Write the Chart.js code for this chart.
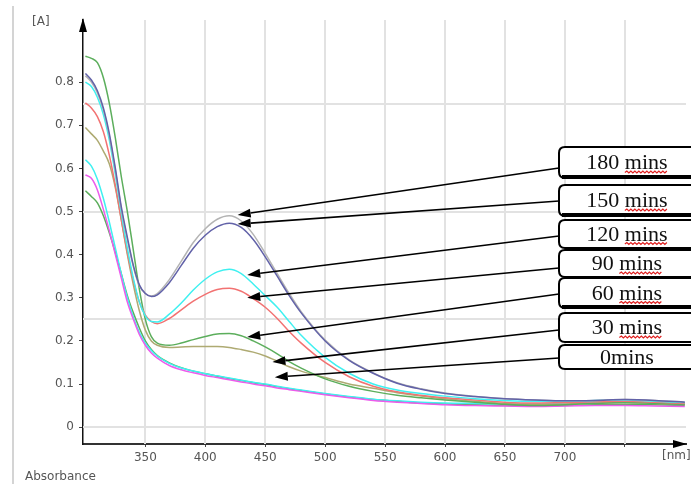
<!DOCTYPE html>
<html>
<head>
<meta charset="utf-8">
<script src="https://cdn.jsdelivr.net/npm/chart.js@4.4.1/dist/chart.umd.min.js"></script>
<style>
  html, body { margin: 0; padding: 0; background: #fff; }
</style>
</head>
<body>
<canvas id="chart" width="691" height="484"></canvas>
<script>
// wavelength grid (nm)
const wavelengths = [300, 305, 310, 315, 320, 325, 330, 335, 340, 345, 350, 355, 360, 370, 380, 390, 400, 410, 420, 430, 440, 450, 460, 470, 480, 500, 520, 540, 560, 580, 600, 625, 650, 675, 700, 725, 750, 775, 800];

// absorbance readings per time
const abs180 = [0.815, 0.8, 0.775, 0.735, 0.675, 0.595, 0.505, 0.435, 0.372, 0.328, 0.31, 0.304, 0.31, 0.342, 0.385, 0.428, 0.46, 0.482, 0.49, 0.478, 0.447, 0.403, 0.356, 0.31, 0.268, 0.202, 0.156, 0.126, 0.103, 0.089, 0.079, 0.071, 0.066, 0.063, 0.061, 0.062, 0.064, 0.062, 0.058];
const abs150 = [0.82, 0.805, 0.78, 0.74, 0.68, 0.6, 0.51, 0.44, 0.375, 0.33, 0.31, 0.303, 0.307, 0.335, 0.375, 0.415, 0.445, 0.465, 0.473, 0.463, 0.435, 0.395, 0.35, 0.305, 0.265, 0.2, 0.155, 0.125, 0.102, 0.088, 0.078, 0.071, 0.066, 0.063, 0.061, 0.062, 0.064, 0.062, 0.058];
const abs120 = [0.80, 0.79, 0.765, 0.725, 0.665, 0.585, 0.495, 0.415, 0.345, 0.29, 0.258, 0.245, 0.244, 0.262, 0.288, 0.318, 0.343, 0.36, 0.366, 0.356, 0.332, 0.305, 0.278, 0.245, 0.213, 0.162, 0.125, 0.1, 0.086, 0.078, 0.072, 0.066, 0.062, 0.06, 0.06, 0.062, 0.063, 0.06, 0.057];
const abs90 = [0.752, 0.74, 0.72, 0.685, 0.63, 0.56, 0.48, 0.405, 0.34, 0.29, 0.26, 0.245, 0.24, 0.252, 0.272, 0.292, 0.308, 0.319, 0.322, 0.315, 0.298, 0.278, 0.252, 0.222, 0.195, 0.15, 0.117, 0.095, 0.082, 0.074, 0.068, 0.063, 0.058, 0.056, 0.057, 0.059, 0.06, 0.058, 0.055];
const abs60 = [0.86, 0.855, 0.845, 0.81, 0.75, 0.67, 0.58, 0.5, 0.41, 0.32, 0.25, 0.21, 0.195, 0.19, 0.195, 0.203, 0.21, 0.216, 0.217, 0.212, 0.2, 0.186, 0.17, 0.152, 0.137, 0.112, 0.095, 0.083, 0.074, 0.068, 0.063, 0.058, 0.053, 0.05, 0.052, 0.055, 0.057, 0.055, 0.053];
const abs30 = [0.695, 0.68, 0.665, 0.64, 0.61, 0.555, 0.48, 0.4, 0.33, 0.27, 0.225, 0.2, 0.19, 0.185, 0.186, 0.187, 0.187, 0.187, 0.185, 0.18, 0.174, 0.165, 0.153, 0.14, 0.13, 0.115, 0.1, 0.09, 0.08, 0.072, 0.066, 0.06, 0.055, 0.053, 0.054, 0.056, 0.057, 0.055, 0.053];
const abs0a = [0.585, 0.577, 0.55, 0.505, 0.455, 0.4, 0.345, 0.29, 0.25, 0.215, 0.19, 0.172, 0.16, 0.143, 0.133, 0.126, 0.12, 0.115, 0.11, 0.105, 0.1, 0.096, 0.091, 0.087, 0.083, 0.075, 0.068, 0.062, 0.058, 0.055, 0.052, 0.05, 0.049, 0.048, 0.049, 0.05, 0.05, 0.049, 0.048];
const abs0b = [0.62, 0.605, 0.575, 0.53, 0.475, 0.415, 0.355, 0.3, 0.255, 0.22, 0.195, 0.178, 0.165, 0.148, 0.137, 0.13, 0.124, 0.119, 0.114, 0.109, 0.104, 0.1, 0.095, 0.09, 0.086, 0.078, 0.071, 0.065, 0.061, 0.058, 0.056, 0.055, 0.054, 0.054, 0.056, 0.058, 0.058, 0.057, 0.055];
const abs0c = [0.548, 0.535, 0.52, 0.49, 0.45, 0.405, 0.355, 0.305, 0.265, 0.23, 0.2, 0.18, 0.166, 0.149, 0.138, 0.13, 0.124, 0.118, 0.113, 0.108, 0.103, 0.099, 0.094, 0.089, 0.085, 0.077, 0.07, 0.064, 0.06, 0.056, 0.054, 0.052, 0.05, 0.049, 0.05, 0.052, 0.053, 0.052, 0.05];

const xTicks = [350, 400, 450, 500, 550, 600, 650, 700, 750];
const yTicks = [0, 0.1, 0.2, 0.3, 0.4, 0.5, 0.6, 0.7, 0.8];
const xGrid = [350, 400, 450, 500, 550, 600, 650, 700, 750];
const yGrid = [0, 0.25, 0.5, 0.75];

// callouts: label and the point on the curve the arrow points to
const calloutLabels = ['180 mins', '150 mins', '120 mins', '90 mins', '60 mins', '30 mins', '0mins'];
const calloutNm = [427, 427, 435, 435, 435, 456, 458];
const calloutAbs = [0.492, 0.471, 0.353, 0.30, 0.209, 0.151, 0.116];

const pts = arr => wavelengths.map((x, i) => ({ x, y: arr[i] }));
const line = (label, data, color) => ({
  label, data: pts(data), borderColor: color, borderWidth: 1.5,
  pointRadius: 0, fill: false, tension: 0.3, cubicInterpolationMode: 'monotone',
});

const boxes = [
  { top: 147, bottom: 178, thick: true,  lineY: 168 },
  { top: 185, bottom: 216, thick: true,  lineY: 201 },
  { top: 220, bottom: 248, thick: false, lineY: 236 },
  { top: 250, bottom: 277, thick: false, lineY: 268 },
  { top: 278, bottom: 308, thick: true,  lineY: 294 },
  { top: 313, bottom: 342, thick: false, lineY: 330 },
  { top: 345, bottom: 369, thick: false, lineY: 358 },
];

function roundRect(ctx, x, y, w, h, r) {
  ctx.beginPath();
  ctx.moveTo(x + r, y);
  ctx.lineTo(x + w - r, y);
  ctx.quadraticCurveTo(x + w, y, x + w, y + r);
  ctx.lineTo(x + w, y + h - r);
  ctx.quadraticCurveTo(x + w, y + h, x + w - r, y + h);
  ctx.lineTo(x + r, y + h);
  ctx.quadraticCurveTo(x, y + h, x, y + h - r);
  ctx.lineTo(x, y + r);
  ctx.quadraticCurveTo(x, y, x + r, y);
  ctx.closePath();
}

const decor = {
  id: 'decor',
  beforeDatasetsDraw(chart) {
    const { ctx, chartArea: a, scales: { x, y } } = chart;
    ctx.save();
    ctx.strokeStyle = '#e2e2e2';
    ctx.lineWidth = 2;
    for (const v of xGrid) {
      const px = Math.round(x.getPixelForValue(v));
      ctx.beginPath(); ctx.moveTo(px, a.top); ctx.lineTo(px, a.bottom); ctx.stroke();
    }
    for (const v of yGrid) {
      const py = Math.round(y.getPixelForValue(v));
      ctx.beginPath(); ctx.moveTo(a.left, py); ctx.lineTo(a.right, py); ctx.stroke();
    }
    // outer frame line on the left
    ctx.strokeStyle = '#d4d4d4';
    ctx.beginPath(); ctx.moveTo(13, 6); ctx.lineTo(13, 484); ctx.stroke();
    ctx.restore();
  },
  afterDraw(chart) {
    const { ctx, chartArea: a, scales: { x, y } } = chart;
    ctx.save();
    // axis arrows
    ctx.fillStyle = '#000';
    ctx.beginPath();
    ctx.moveTo(a.left, a.top - 2); ctx.lineTo(a.left - 4, a.top + 12); ctx.lineTo(a.left + 4, a.top + 12);
    ctx.closePath(); ctx.fill();
    ctx.beginPath();
    ctx.moveTo(a.right + 1, a.bottom); ctx.lineTo(a.right - 13, a.bottom - 4); ctx.lineTo(a.right - 13, a.bottom + 4);
    ctx.closePath(); ctx.fill();
    // axis titles
    ctx.fillStyle = '#555';
    ctx.font = '12px "DejaVu Sans"';
    ctx.textBaseline = 'middle';
    ctx.textAlign = 'left';
    ctx.fillText('[A]', 32, 22);
    ctx.fillText('Absorbance', 25, 477);
    ctx.fillText('[nm]', 662, 456);

    // callouts
    ctx.font = '22px "Liberation Serif"';
    boxes.forEach((b, i) => {
      const tx = x.getPixelForValue(calloutNm[i]);
      const ty = y.getPixelForValue(calloutAbs[i]);
      const x0 = 559, y0 = b.lineY;
      const ang = Math.atan2(ty - y0, tx - x0);
      const L = 13, W = 4.5;
      const bx = tx - L * Math.cos(ang), by = ty - L * Math.sin(ang);
      ctx.strokeStyle = '#000';
      ctx.lineWidth = 1.6;
      ctx.beginPath(); ctx.moveTo(x0, y0); ctx.lineTo(bx, by); ctx.stroke();
      ctx.fillStyle = '#000';
      ctx.beginPath();
      ctx.moveTo(tx, ty);
      ctx.lineTo(bx + W * Math.sin(ang), by - W * Math.cos(ang));
      ctx.lineTo(bx - W * Math.sin(ang), by + W * Math.cos(ang));
      ctx.closePath(); ctx.fill();

      // box
      ctx.fillStyle = '#fff';
      roundRect(ctx, 559, b.top, 150, b.bottom - b.top, 6);
      ctx.fill();
      ctx.lineWidth = 2;
      ctx.stroke();
      if (b.thick) {
        ctx.fillStyle = '#000';
        ctx.fillRect(562, b.bottom - 3, 140, 4);
      }
      // label text
      const label = calloutLabels[i];
      const cy = (b.top + b.bottom) / 2 + 1;
      ctx.fillStyle = '#111';
      ctx.textAlign = 'center';
      ctx.textBaseline = 'middle';
      ctx.fillText(label, 627, cy);
      const sp = label.indexOf(' mins');
      if (sp >= 0) {
        const full = ctx.measureText(label).width;
        const pre = ctx.measureText(label.slice(0, sp + 1)).width;
        const sx = 627 - full / 2 + pre;
        const ex = 627 + full / 2;
        const wy = cy + 9;
        ctx.strokeStyle = '#e02020';
        ctx.lineWidth = 1.2;
        ctx.beginPath();
        ctx.moveTo(sx, wy);
        let up = true;
        for (let px = sx + 2; px <= ex; px += 2) {
          ctx.lineTo(px, up ? wy - 1.5 : wy + 0.5);
          up = !up;
        }
        ctx.stroke();
      }
    });
    ctx.restore();
  },
};

new Chart(document.getElementById('chart'), {
  type: 'line',
  data: {
    datasets: [
      line('150 mins', abs150, '#6262a8'),
      line('180 mins', abs180, '#b4b4b4'),
      line('120 mins', abs120, '#3ff0f0'),
      line('90 mins', abs90, '#f27272'),
      line('60 mins', abs60, '#5cae5c'),
      line('30 mins', abs30, '#aeaa72'),
      line('0 mins a', abs0a, '#ec5cec'),
      line('0 mins b', abs0b, '#3ff0f0'),
      line('0 mins c', abs0c, '#5cae5c'),
    ],
  },
  options: {
    responsive: false,
    animation: false,
    layout: { padding: { top: 20, right: 5, left: 0, bottom: 0 } },
    plugins: { legend: { display: false }, tooltip: { enabled: false } },
    scales: {
      x: {
        type: 'linear', min: 298, max: 801,
        afterBuildTicks: s => { s.ticks = xTicks.map(v => ({ value: v })); },
        afterFit: s => { s.height = 40; },
        ticks: {
          callback: v => (v === 750 ? '' : String(v)),
          color: '#555', font: { family: 'DejaVu Sans', size: 12 },
          padding: 4, autoSkip: false, maxRotation: 0,
        },
        grid: { drawOnChartArea: false, drawTicks: true, tickLength: 3, color: '#444' },
        border: { color: '#333', width: 2 },
      },
      y: {
        min: -0.039, max: 0.944,
        afterBuildTicks: s => { s.ticks = yTicks.map(v => ({ value: v })); },
        afterFit: s => { s.width = 83; },
        ticks: {
          callback: v => (v === 0 ? '0' : v.toFixed(1)),
          color: '#555', font: { family: 'DejaVu Sans', size: 12 }, padding: 5,
        },
        grid: { drawOnChartArea: false, drawTicks: true, tickLength: 4, color: '#444' },
        border: { color: '#111', width: 1.5 },
      },
    },
  },
  plugins: [decor],
});
</script>
</body>
</html>
